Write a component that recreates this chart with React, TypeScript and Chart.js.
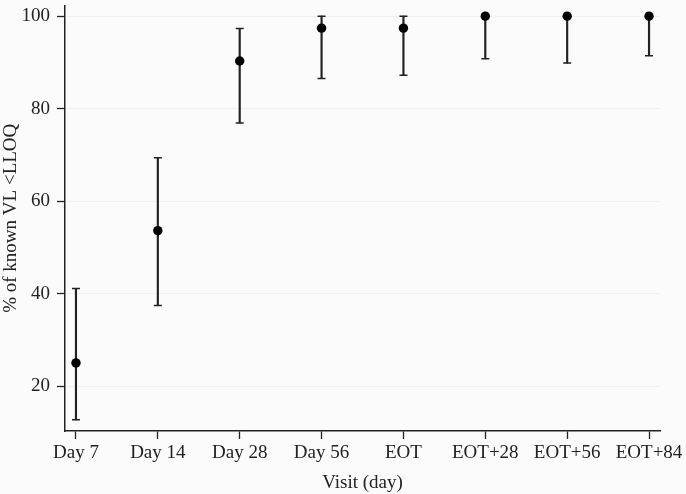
import React, { useEffect, useRef } from "react";
import { Chart, registerables } from "chart.js";

Chart.register(...registerables);

const categories = ["Day 7", "Day 14", "Day 28", "Day 56", "EOT", "EOT+28", "EOT+56", "EOT+84"];
const pointValues = [25.0, 53.6, 90.3, 97.4, 97.4, 100, 100, 100];
const lowerValues = [12.7, 37.4, 76.9, 86.5, 87.2, 90.8, 89.85, 91.45];
const upperValues = [41.1, 69.4, 97.3, 100, 100, 100, 100, 100];
const yTickValues = [20, 40, 60, 80, 100];

const FONT = "'Liberation Serif', 'DejaVu Serif', serif";
const INK = "#222222";

export default function App() {
  const ref = useRef<HTMLCanvasElement | null>(null);

  useEffect(() => {
    if (!ref.current) return;
    const xIdx = categories.map((_, i) => i);
    const chart = new Chart(ref.current, {
      type: "scatter",
      data: {
        datasets: [
          {
            type: "scatter",
            label: "points",
            data: xIdx.map((i) => ({ x: i, y: pointValues[i] })),
            backgroundColor: "#000",
            borderWidth: 0,
            pointRadius: 4.7,
          },
          {
            type: "scatter",
            label: "caps",
            data: [
              ...xIdx.map((i) => ({ x: i, y: lowerValues[i] })),
              ...xIdx.map((i) => ({ x: i, y: upperValues[i] })),
            ],
            pointStyle: "line",
            pointRadius: 4,
            borderColor: INK,
            borderWidth: 1.5,
          },
          {
            type: "bar",
            label: "range",
            data: xIdx.map((i) => ({ x: i, y: [lowerValues[i], upperValues[i]] })) as any,
            backgroundColor: INK,
            borderWidth: 0,
            barThickness: 1.5,
          } as any,
        ],
      },
      options: {
        animation: false,
        responsive: true,
        maintainAspectRatio: false,
        layout: { padding: { top: 5, right: 26, left: 0, bottom: 0 } },
        plugins: { legend: { display: false }, tooltip: { enabled: false } },
        scales: {
          x: {
            type: "linear",
            offset: false,
            min: -0.134,
            max: 7.134,
            afterBuildTicks: (s: any) => {
              s.ticks = xIdx.map((v) => ({ value: v }));
            },
            afterFit: (s: any) => {
              s.height = 63;
              s.paddingLeft = 0;
              s.paddingRight = 0;
            },
            grid: {
              offset: false,
              drawOnChartArea: false,
              drawTicks: true,
              tickLength: 8,
              tickColor: INK,
              tickWidth: 1.3,
            },
            border: { display: true, color: INK, width: 1.5 },
            ticks: {
              color: INK,
              padding: 3,
              maxRotation: 0,
              autoSkip: false,
              font: { family: FONT, size: 19 },
              callback: (v: any) => categories[Math.round(Number(v))] ?? "",
            },
            title: {
              display: true,
              text: "Visit (day)",
              color: INK,
              font: { family: FONT, size: 19 },
              padding: { top: 0, bottom: 0 },
            },
          },
          y: {
            type: "linear",
            min: 10.28,
            max: 102.3,
            afterBuildTicks: (s: any) => {
              s.ticks = yTickValues.map((v) => ({ value: v }));
            },
            afterFit: (s: any) => {
              s.width = 65;
              s.paddingTop = 0;
              s.paddingBottom = 0;
            },
            grid: {
              color: "#f1f1f1",
              lineWidth: 1,
              drawTicks: true,
              tickLength: 8,
              tickColor: INK,
              tickWidth: 1.3,
            },
            border: { display: true, color: INK, width: 1.5 },
            ticks: {
              color: INK,
              padding: 7,
              font: { family: FONT, size: 19 },
            },
            title: {
              display: true,
              text: "% of known VL <LLOQ",
              color: INK,
              font: { family: FONT, size: 19 },
              padding: { top: 0, bottom: 0 },
            },
          },
        },
      },
    });
    return () => chart.destroy();
  }, []);

  return (
    <div
      style={{
        position: "absolute",
        left: 0,
        top: 0,
        width: 686,
        height: 494,
        background: "#fbfbfb",
      }}
    >
      <canvas ref={ref} />
    </div>
  );
}
